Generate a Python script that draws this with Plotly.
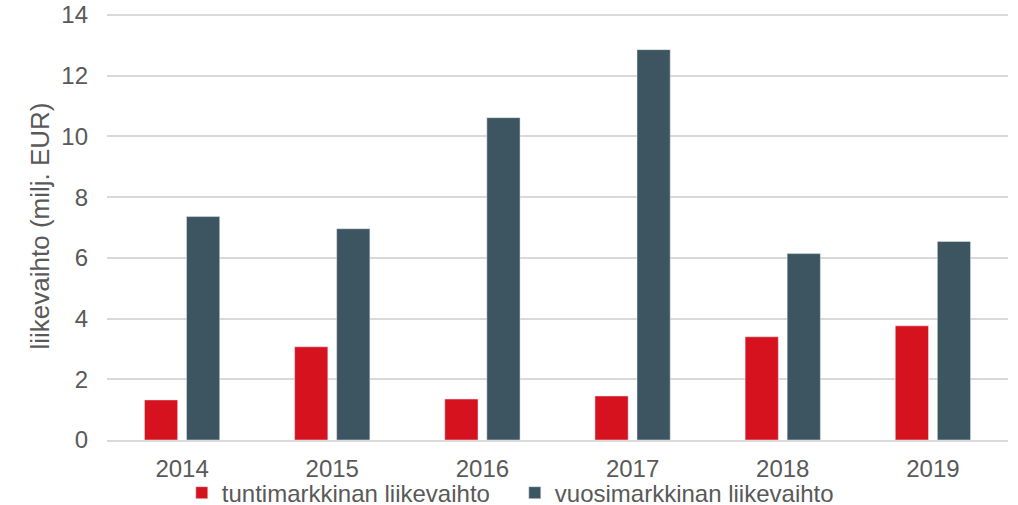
import plotly.graph_objects as go

YEARS = ["2014", "2015", "2016", "2017", "2018", "2019"]
TUNTI = [1.32, 3.07, 1.35, 1.45, 3.40, 3.76]
VUOSI = [7.36, 6.96, 10.62, 12.86, 6.14, 6.54]

RED = "#D7121F"
DARK = "#3D5560"
TEXT = "#595959"
GRID = "#D9D9D9"

fig = go.Figure()
fig.add_trace(go.Bar(x=YEARS, y=TUNTI, name="tuntimarkkinan liikevaihto",
                     marker={"color": RED}))
fig.add_trace(go.Bar(x=YEARS, y=VUOSI, name="vuosimarkkinan liikevaihto",
                     marker={"color": DARK}))

fig.update_layout(
    width=1018,
    height=505,
    barmode="group",
    bargap=0.44,
    bargroupgap=0.21,
    paper_bgcolor="white",
    plot_bgcolor="white",
    margin={"l": 107, "r": 10, "t": 12, "b": 65, "autoexpand": False},
    font={"family": "Liberation Sans, Arial, sans-serif", "size": 24, "color": TEXT},
    showlegend=True,
    legend={
        "orientation": "h",
        "x": 0.083,
        "xanchor": "left",
        "y": -0.124,
        "yanchor": "middle",
        "bgcolor": "rgba(0,0,0,0)",
        "font": {"size": 24, "color": TEXT},
        "itemwidth": 30,
        "entrywidth": 288,
        "tracegroupgap": 0,
    },
)
fig.update_xaxes(showgrid=False, showline=True, linecolor=GRID, linewidth=2,
                 ticks="", tickfont={"size": 24, "color": TEXT}, ticklabelstandoff=6)
# range a little above 14 so plotly keeps the top gridline (it drops lines at the edge)
fig.update_yaxes(range=[0, 14.1], tick0=0, dtick=2, gridcolor=GRID, gridwidth=2,
                 zeroline=False, showline=False,
                 title={"text": "liikevaihto (milj. EUR)", "font": {"size": 26, "color": TEXT},
                        "standoff": 4},
                 tickfont={"size": 24, "color": TEXT}, ticklabelstandoff=18)

# drop the default 8px body margin so the figure sits at the window's corner
fig.write_html("out.html", config={"displayModeBar": False},
               post_script="document.body.style.margin = '0';")
